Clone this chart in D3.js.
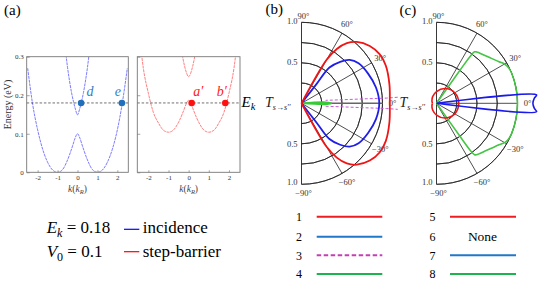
<!DOCTYPE html>
<html>
<head>
<meta charset="utf-8">
<script src="https://cdn.jsdelivr.net/npm/d3@7"></script>
<style>
  body { margin: 0; background: #fff; }
  svg, svg text { font-family: 'Liberation Serif', 'Times New Roman', 'DejaVu Serif', serif; }
</style>
</head>
<body>
<div id="container"></div>
<script>
'use strict';

const w = 540;
const h = 281;
const serif = "'Liberation Serif', 'Times New Roman', 'DejaVu Serif', serif";

// ---- panel (a) data: band energies (eV) against k (k_R) ----
const kBand = [-2.5, -2.25, -2, -1.75, -1.5, -1.25, -1, -0.75, -0.5, -0.25, -0.125, 0,
               0.125, 0.25, 0.5, 0.75, 1, 1.25, 1.5, 1.75, 2, 2.25, 2.5];
const eIncLower = [0.27, 0.176, 0.11, 0.06, 0.026, 0.006, 0, 0.007, 0.032, 0.068, 0.088, 0.1,
                   0.088, 0.068, 0.032, 0.007, 0, 0.006, 0.026, 0.06, 0.11, 0.18, 0.27];
const eBarLower = [0.385, 0.27, 0.205, 0.155, 0.128, 0.109, 0.104, 0.11, 0.13, 0.16, 0.177, 0.187,
                   0.177, 0.16, 0.13, 0.11, 0.104, 0.109, 0.128, 0.155, 0.205, 0.27, 0.385];
const kIncUpper = [-0.6, -0.5, -0.4, -0.3, -0.2, -0.1, 0, 0.1, 0.2, 0.3, 0.4, 0.5, 0.6];
const eIncUpper = [0.315, 0.272, 0.237, 0.207, 0.183, 0.163, 0.149, 0.163, 0.183, 0.207, 0.237, 0.272, 0.315];
const kBarUpper = [-0.35, -0.3, -0.2, -0.1, 0, 0.1, 0.2, 0.3, 0.35];
const eBarUpper = [0.315, 0.3, 0.275, 0.257, 0.248, 0.257, 0.275, 0.3, 0.315];
const eK = 0.18;
const incDotK = [0.18, 2.23];
const incDotLabel = ['d', 'e'];
const barDotK = [0.15, 1.82];
const barDotLabel = ['a\u2032', 'b\u2032'];
const eTicks = [0, 0.1, 0.2, 0.3];
const kTicks = [-2, -1, 0, 1, 2];

// ---- panels (b), (c): transmission lobes, angle (deg) and radius ----
const rTicks = [0.25, 0.5, 0.75, 1];
const rLabels = [0.5, 1];
const angleTicks = [90, 60, 30, 0, -30, -60, -90];

const bRedTheta = [-60, -60, -57, -53, -48, -40, -32, -24, -12, 0, 12, 24, 32, 40, 48, 53, 57, 60, 60];
const bRedR     = [0, 0.62, 0.8, 0.93, 1.02, 1.1, 1.14, 1.14, 1.11, 1.09, 1.11, 1.14, 1.14, 1.1, 1.02, 0.93, 0.8, 0.62, 0];
const bBlueTheta = [-52, -52, -52, -47, -42, -35, -24, -12, 0, 12, 24, 35, 42, 47, 52, 52, 52];
const bBlueR     = [0, 0.3, 0.56, 0.7, 0.8, 0.86, 0.9, 0.94, 0.96, 0.94, 0.9, 0.86, 0.8, 0.7, 0.56, 0.3, 0];
// two open dashed branches, NaN splits them
const bMagTheta = [-7, -5, -4, -3.5, -3.6, NaN, 3.6, 3.5, 4, 5, 7];
const bMagR     = [0.3, 0.5, 0.8, 1.05, 1.19, NaN, 1.19, 1.05, 0.8, 0.5, 0.3];
const bGreenTheta = [-2.5, -2.5, 0, 2.5, 2.5];
const bGreenR     = [0, 0.3, 0.37, 0.3, 0];

const cGreenTheta = [-54.6, -54.6, -54.3, -53.5, -52, -50, -45.7, -39.3, -33.6, -30, -27, -22, -10, 0,
                     10, 22, 27, 30, 33.6, 39.3, 45.7, 50, 52, 53.5, 54.3, 54.6, 54.6];
const cGreenR     = [0, 0.5, 0.72, 0.79, 0.805, 0.815, 0.834, 0.876, 0.927, 0.97, 0.99, 1.0, 1.0, 1.0,
                     1.0, 1.0, 0.99, 0.97, 0.927, 0.876, 0.834, 0.815, 0.805, 0.79, 0.72, 0.5, 0];
const cRedTheta = [-180, -150, -120, -90, -60, -30, 0, 30, 60, 90, 120, 150, 180];
const cRedR     = [0.05, 0.065, 0.095, 0.145, 0.21, 0.26, 0.275, 0.26, 0.21, 0.145, 0.095, 0.065, 0.05];
const cBlueTheta = [-4.8, -4.8, -3, 0, 3, 4.8, 4.8];
const cBlueR     = [0, 1.24, 1.21, 1.19, 1.21, 1.24, 0];

// ---- legends ----
const legendLeftNames = ['1', '2', '3', '4'];
const legendLeftColors = ['#ee1d23', '#1f78c8', '#c23fb4', '#1db34f'];
const legendRightNames = ['5', '6', '7', '8'];
const legendRightColors = ['#ee1d23', null, '#1f78c8', '#1db34f'];

const svg = d3.select('#container')
    .append('svg')
    .attr('width', w)
    .attr('height', h)
    .attr('viewBox', '0 0 ' + w + ' ' + h)
    .attr('font-family', serif);

// ================= panel (a) =================
const plotTop = 56.7;
const plotBottom = 172.3;
const yScale = d3.scaleLinear().domain([0, 0.3]).range([plotBottom, plotTop]);

function bandPlot(x0, x1, bands, color, dotK, dotLabels, dotColor, labelColor, labelDx, showYLabels, id) {
    const xScale = d3.scaleLinear().domain([-2.55, 2.55]).range([x0, x1]);
    const g = svg.append('g');

    g.append('clipPath').attr('id', id)
        .append('rect')
        .attr('x', x0).attr('y', plotTop)
        .attr('width', x1 - x0).attr('height', plotBottom - plotTop);

    const line = d3.line()
        .x(d => xScale(d[0]))
        .y(d => yScale(d[1]))
        .curve(d3.curveMonotoneX);

    bands.forEach(b => {
        g.append('path')
            .attr('clip-path', 'url(#' + id + ')')
            .attr('d', line(d3.zip(b[0], b[1])))
            .attr('fill', 'none')
            .attr('stroke', color)
            .attr('stroke-width', 0.8)
            .attr('stroke-dasharray', '3,0.8');
    });

    // E_k level
    g.append('line')
        .attr('x1', x0).attr('x2', x1)
        .attr('y1', yScale(eK)).attr('y2', yScale(eK))
        .attr('stroke', '#333')
        .attr('stroke-width', 0.7)
        .attr('stroke-dasharray', '2.5,1.8');

    // axes
    const yAxis = d3.axisLeft(yScale)
        .tickValues(eTicks)
        .tickSizeInner(-3)
        .tickSizeOuter(0)
        .tickFormat(d => showYLabels ? (d === 0 ? '0' : d3.format('.1f')(d)) : '');
    const ya = g.append('g')
        .attr('transform', 'translate(' + x0 + ',0)')
        .call(yAxis);
    const xAxis = d3.axisBottom(xScale)
        .tickValues(kTicks)
        .tickSizeInner(-2)
        .tickSizeOuter(0)
        .tickFormat(d => String(d));
    const xa = g.append('g')
        .attr('transform', 'translate(0,' + plotBottom + ')')
        .call(xAxis);
    [ya, xa].forEach(a => {
        a.attr('font-family', serif);
        a.select('.domain').remove();
        a.selectAll('line').attr('stroke', '#666').attr('stroke-width', 0.6);
        a.selectAll('text').attr('font-size', 7).attr('fill', '#333');
    });

    g.append('rect')
        .attr('x', x0).attr('y', plotTop)
        .attr('width', x1 - x0).attr('height', plotBottom - plotTop)
        .attr('fill', 'none')
        .attr('stroke', '#777')
        .attr('stroke-width', 0.9);

    // crossing points
    g.selectAll('circle.dot')
        .data(dotK)
        .enter()
        .append('circle')
        .attr('class', 'dot')
        .attr('cx', d => xScale(d))
        .attr('cy', yScale(eK))
        .attr('r', 3.3)
        .attr('fill', dotColor);
    g.selectAll('text.dotlabel')
        .data(dotK)
        .enter()
        .append('text')
        .attr('class', 'dotlabel')
        .attr('x', (d, i) => xScale(d) + labelDx[i])
        .attr('y', yScale(eK) - 6.5)
        .attr('text-anchor', 'middle')
        .attr('font-size', 14)
        .attr('font-style', 'italic')
        .attr('fill', labelColor)
        .text((d, i) => dotLabels[i]);

    // k axis label
    const kl = g.append('text')
        .attr('x', (x0 + x1) / 2)
        .attr('y', 191.5)
        .attr('text-anchor', 'middle')
        .attr('font-size', 9.5)
        .attr('fill', '#444');
    kl.append('tspan').attr('font-style', 'italic').text('k');
    kl.append('tspan').text('(');
    kl.append('tspan').attr('font-style', 'italic').text('k');
    kl.append('tspan').attr('font-style', 'italic').attr('font-size', 6.5).attr('dy', 2).text('R');
    kl.append('tspan').attr('dy', -2).text(')');
}

bandPlot(26.7, 128.3,
    [[kBand, eIncLower], [kIncUpper, eIncUpper]],
    '#5b5bff', incDotK, incDotLabel, '#1f6fbd', '#2f80c9', [9, -4], true, 'clipInc');
bandPlot(137.3, 240,
    [[kBand, eBarLower], [kBarUpper, eBarUpper]],
    '#ff6060', barDotK, barDotLabel, '#ff1010', '#ff1a1a', [6.5, -3.5], false, 'clipBar');

svg.append('text')
    .attr('transform', 'translate(11,104.5) rotate(-90)')
    .attr('text-anchor', 'middle')
    .attr('font-size', 10)
    .attr('fill', '#333')
    .text('Energy (eV)');

svg.append('text').attr('x', 4).attr('y', 15.2).attr('font-size', 15).text('(a)');
svg.append('text').attr('x', 265.5).attr('y', 14.4).attr('font-size', 15).text('(b)');
svg.append('text').attr('x', 399.5).attr('y', 14.6).attr('font-size', 15).text('(c)');

// E_k marker next to (a)
const ek = svg.append('text').attr('x', 241.5).attr('y', 107).attr('font-size', 15);
ek.append('tspan').attr('font-style', 'italic').text('E');
ek.append('tspan').attr('font-style', 'italic').attr('font-size', 10.5).attr('dy', 3).text('k');

// ================= polar panels =================
const R = 81;
const rScale = d3.scaleLinear().domain([0, 1]).range([0, R]);
const rad = deg => deg * Math.PI / 180;

function polarPanel(cx, cy, series, zeroColor, zeroWidth) {
    const g = svg.append('g').attr('transform', 'translate(' + cx + ',' + cy + ')');

    // grid circles
    g.selectAll('path.ring')
        .data(rTicks)
        .enter()
        .append('path')
        .attr('class', 'ring')
        .attr('d', d => d3.arc()
            .innerRadius(rScale(d)).outerRadius(rScale(d))
            .startAngle(0).endAngle(Math.PI)())
        .attr('fill', 'none')
        .attr('stroke', '#222')
        .attr('stroke-width', 0.8);

    // spokes
    g.selectAll('line.spoke')
        .data([60, 30, -30, -60])
        .enter()
        .append('line')
        .attr('class', 'spoke')
        .attr('x1', 0).attr('y1', 0)
        .attr('x2', d => rScale(1) * Math.cos(rad(d)))
        .attr('y2', d => -rScale(1) * Math.sin(rad(d)))
        .attr('stroke', '#222')
        .attr('stroke-width', 0.8);
    g.append('line')
        .attr('x1', 0).attr('x2', 0)
        .attr('y1', -rScale(1)).attr('y2', rScale(1))
        .attr('stroke', '#222')
        .attr('stroke-width', 0.9);
    g.append('line')
        .attr('x1', 0).attr('x2', rScale(1))
        .attr('y1', 0).attr('y2', 0)
        .attr('stroke', zeroColor)
        .attr('stroke-width', zeroWidth);

    // angle labels
    g.selectAll('text.ang')
        .data(angleTicks)
        .enter()
        .append('text')
        .attr('class', 'ang')
        .attr('x', d => (Math.abs(d) === 90 ? 2 : 0) + (R + 10) * Math.cos(rad(d)))
        .attr('y', d => d === 90 ? -(R + 6) : d === -90 ? R + 9 : -(R + 10) * Math.sin(rad(d)))
        .attr('dy', '0.35em')
        .attr('text-anchor', 'middle')
        .attr('font-size', 8.5)
        .attr('fill', '#333')
        .text(d => (d < 0 ? '\u2212' : '') + Math.abs(d) + '\u00b0');

    // radial labels on the vertical axis
    [-1, 1].forEach(s => {
        g.selectAll('text.rl' + (s > 0 ? 'p' : 'n'))
            .data(rLabels)
            .enter()
            .append('text')
            .attr('x', -4)
            .attr('y', d => s * rScale(d) - (s < 0 ? 1 : (d === 1 ? 2.5 : 0)))
            .attr('dy', '0.35em')
            .attr('text-anchor', 'end')
            .attr('font-size', 8.5)
            .attr('fill', '#333')
            .text(d => d3.format('.1f')(d));
    });

    series.forEach(s => {
        const lobe = d3.lineRadial()
            .defined(d => !isNaN(d[0]))
            .angle(d => rad(90 - d[0]))
            .radius(d => rScale(d[1]))
            .curve(s.linear ? d3.curveLinear : d3.curveCatmullRom.alpha(0.5));
        g.append('path')
            .attr('d', lobe(d3.zip(s.theta, s.r)))
            .attr('fill', s.fill || 'none')
            .attr('stroke', s.color)
            .attr('stroke-width', s.width)
            .attr('stroke-dasharray', s.dash || null)
            .attr('stroke-linejoin', 'round');
    });
    return g;
}

polarPanel(301.5, 103.3, [
    {theta: bMagTheta, r: bMagR, color: '#c65ad6', width: 1, dash: '3,2', linear: true},
    {theta: bGreenTheta, r: bGreenR, color: '#38c938', width: 1.6, fill: '#38c938'},
    {theta: bBlueTheta, r: bBlueR, color: '#1f1fe6', width: 1.8},
    {theta: bRedTheta, r: bRedR, color: '#f01414', width: 1.8}
], '#666', 1.6);

polarPanel(436.5, 103.3, [
    {theta: cGreenTheta, r: cGreenR, color: '#45c445', width: 1.6},
    {theta: cRedTheta, r: cRedR, color: '#f01414', width: 1.6},
    {theta: cBlueTheta, r: cBlueR, color: '#1a1aee', width: 1.6}
], '#222', 0.8);

// T labels
function tLabel(x, y) {
    const t = svg.append('text').attr('x', x).attr('y', y).attr('font-size', 14)
        .attr('font-style', 'italic').attr('fill', '#222');
    t.append('tspan').text('T');
    t.append('tspan').attr('font-size', 8).attr('dy', 3).text('s\u2192s\u2032\u2032');
}
tLabel(265, 106.5);
tLabel(399.5, 106.5);

// ================= legends =================
const legRows = [216.7, 236.7, 255.3, 274];
const leg = svg.append('g');
leg.selectAll('text.ln')
    .data(legendLeftNames)
    .enter()
    .append('text')
    .attr('x', 299).attr('y', (d, i) => legRows[i])
    .attr('dy', '0.35em').attr('text-anchor', 'middle').attr('font-size', 12)
    .text(d => d);
leg.selectAll('line.ll')
    .data(legendLeftColors)
    .enter()
    .append('line')
    .attr('x1', 316.7).attr('x2', 382.3)
    .attr('y1', (d, i) => legRows[i]).attr('y2', (d, i) => legRows[i])
    .attr('stroke', d => d)
    .attr('stroke-width', 2)
    .attr('stroke-dasharray', (d, i) => i === 2 ? '4.5,2.5' : null);
leg.selectAll('text.rn')
    .data(legendRightNames)
    .enter()
    .append('text')
    .attr('x', 432.5).attr('y', (d, i) => legRows[i])
    .attr('dy', '0.35em').attr('text-anchor', 'middle').attr('font-size', 12)
    .text(d => d);
leg.selectAll('line.rl')
    .data(legendRightColors.map((c, i) => ({c: c, i: i})).filter(d => d.c))
    .enter()
    .append('line')
    .attr('x1', 450).attr('x2', 516)
    .attr('y1', d => legRows[d.i]).attr('y2', d => legRows[d.i])
    .attr('stroke', d => d.c)
    .attr('stroke-width', 2);
leg.append('text')
    .attr('x', 482.5).attr('y', legRows[1])
    .attr('dy', '0.35em').attr('text-anchor', 'middle').attr('font-size', 13.5)
    .text('None');

// parameter legend, bottom left
const pl = svg.append('g').attr('font-size', 17);
const r1 = pl.append('text').attr('x', 46.7).attr('y', 233.3);
r1.append('tspan').attr('font-style', 'italic').text('E');
r1.append('tspan').attr('font-style', 'italic').attr('font-size', 12).attr('dy', 4).text('k');
r1.append('tspan').attr('dy', -4).text(' = 0.18');
const r2 = pl.append('text').attr('x', 46.7).attr('y', 257.3);
r2.append('tspan').attr('font-style', 'italic').text('V');
r2.append('tspan').attr('font-size', 12).attr('dy', 4).text('0');
r2.append('tspan').attr('dy', -4).text(' = 0.1');
pl.append('line').attr('x1', 124).attr('x2', 139.3).attr('y1', 229.3).attr('y2', 229.3)
    .attr('stroke', '#0000ff').attr('stroke-width', 1.2);
pl.append('line').attr('x1', 124).attr('x2', 139.3).attr('y1', 251.7).attr('y2', 251.7)
    .attr('stroke', '#ff0000').attr('stroke-width', 1.2);
pl.append('text').attr('x', 142.7).attr('y', 233.3).text('incidence');
pl.append('text').attr('x', 142.7).attr('y', 257.3).text('step-barrier');
</script>
</body>
</html>
